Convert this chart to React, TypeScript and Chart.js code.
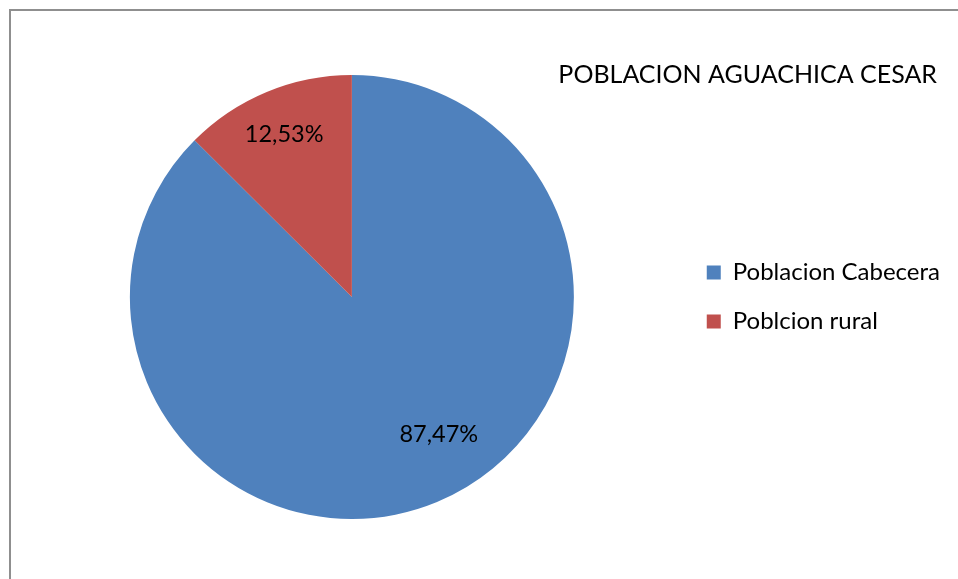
import React, { useEffect, useRef } from "react";
import { Chart, registerables } from "chart.js";

Chart.register(...registerables);

const chartTitle = "POBLACION AGUACHICA CESAR";
const categories = ["Poblacion Cabecera", "Poblcion rural"];
const percentages = [87.47, 12.53];
const valueLabels = ["87,47%", "12,53%"];
const sliceColors = ["#4F81BD", "#C0504D"];

const FONT = "Lato, 'Open Sans', sans-serif";

export default function App() {
  const ref = useRef<HTMLCanvasElement | null>(null);

  useEffect(() => {
    if (!ref.current) return;

    const frame = {
      id: "frame",
      beforeDraw(chart: any) {
        const ctx = chart.ctx;
        ctx.save();
        ctx.fillStyle = "#ffffff";
        ctx.fillRect(0, 0, chart.width, chart.height);
        ctx.strokeStyle = "#8f8f8f";
        ctx.lineWidth = 2;
        ctx.beginPath();
        ctx.moveTo(10, chart.height + 5);
        ctx.lineTo(10, 10);
        ctx.lineTo(chart.width + 5, 10);
        ctx.stroke();
        ctx.restore();
      },
    };

    const titlePlugin = {
      id: "cornerTitle",
      afterDraw(chart: any) {
        const ctx = chart.ctx;
        ctx.save();
        ctx.font = `25px ${FONT}`;
        ctx.fillStyle = "#000000";
        ctx.textAlign = "right";
        ctx.textBaseline = "middle";
        ctx.fillText(chartTitle, chart.width - 21, chart.chartArea.top);
        ctx.restore();
      },
    };

    const labelRadius = [0.733, 0.795];
    const labelAngleShift = [-0.17, 0];
    const labelPlugin = {
      id: "sliceLabels",
      afterDatasetsDraw(chart: any) {
        const ctx = chart.ctx;
        const meta = chart.getDatasetMeta(0);
        ctx.save();
        ctx.font = `23.5px ${FONT}`;
        ctx.fillStyle = "#000000";
        ctx.textAlign = "center";
        ctx.textBaseline = "middle";
        meta.data.forEach((arc: any, i: number) => {
          const p = arc.getProps(["x", "y", "startAngle", "endAngle", "outerRadius"], true);
          const mid = (p.startAngle + p.endAngle) / 2 + labelAngleShift[i];
          const r = p.outerRadius * labelRadius[i];
          ctx.fillText(valueLabels[i], p.x + Math.cos(mid) * r, p.y + Math.sin(mid) * r);
        });
        ctx.restore();
      },
    };

    const chart = new Chart(ref.current, {
      type: "pie",
      data: {
        labels: categories,
        datasets: [
          {
            data: percentages,
            backgroundColor: sliceColors,
            borderWidth: 0,
          },
        ],
      },
      options: {
        responsive: false,
        animation: false,
        layout: { padding: { left: 22, top: 75, bottom: 60, right: 8 } },
        plugins: {
          legend: {
            position: "right",
            labels: {
              boxWidth: 14,
              boxHeight: 14,
              padding: 25,
              color: "#000000",
              font: { family: FONT, size: 24 },
            },
          },
          tooltip: { enabled: false },
          title: { display: false },
        },
      },
      plugins: [frame, titlePlugin, labelPlugin],
    });

    return () => chart.destroy();
  }, []);

  return (
    <canvas
      ref={ref}
      width={958}
      height={579}
      style={{ position: "fixed", left: 0, top: 0, display: "block" }}
    />
  );
}
